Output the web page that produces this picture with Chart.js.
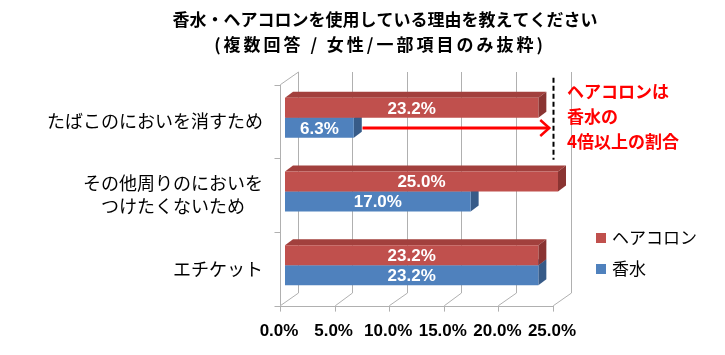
<!DOCTYPE html>
<html>
<head>
<meta charset="utf-8">
<script src="https://cdn.jsdelivr.net/npm/chart.js@4.4.1/dist/chart.umd.min.js"></script>
<style>
  html, body { margin: 0; padding: 0; background: #ffffff; }
  #wrap { width: 725px; height: 355px; }
</style>
</head>
<body>
<div id="wrap"><canvas id="c" width="725" height="355"></canvas></div>
<script>
// ---- data ----
const titleLines = ['香水・ヘアコロンを使用している理由を教えてください', '(複数回答 / 女性/一部項目のみ抜粋)'];
const categories = [['たばこのにおいを消すため'], ['その他周りのにおいを', 'つけたくないため'], ['エチケット']];
const seriesNames = ['ヘアコロン', '香水'];
const hairColognePct = [23.2, 25.0, 23.2];
const perfumePct = [6.3, 17.0, 23.2];
const xTickMin = 0;
const xTickMax = 25;
const xTickStep = 5;
const noteLines = ['ヘアコロンは', '香水の', '4倍以上の割合'];

// ---- styles ----
const RED = '#C0504D', RED_TOP = '#A2403D', RED_SIDE = '#8A3432';
const BLUE = '#4F81BD', BLUE_TOP = '#41699C', BLUE_SIDE = '#375B88';
const GRID = '#B0B0B0';
const JP = '"Noto Sans CJK JP", "Noto Sans", sans-serif';
const NUM = '"Liberation Sans", Arial, sans-serif';

// 3D geometry offsets relative to bar plane
const FRONT = { dx: -5, dy: 3.6 };
const BACK = { dx: 12.5, dy: -9 };
const BAR_DEPTH = { dx: 8, dy: -6 };

const frame3d = {
  id: 'frame3d',
  beforeDatasetsDraw(chart) {
    const ctx = chart.ctx, xs = chart.scales.x, ys = chart.scales.y, a = chart.chartArea;
    ctx.save();
    ctx.strokeStyle = GRID;
    ctx.lineWidth = 1;
    const fTop = a.top + FRONT.dy, fBot = a.bottom + FRONT.dy;
    const bTop = a.top + BACK.dy, bBot = a.bottom + BACK.dy;
    for (let v = xTickMin; v <= xTickMax; v += xTickStep) {
      const px = xs.getPixelForValue(v);
      const bx = Math.round(px + BACK.dx) + 0.5;
      const fx = Math.round(px + FRONT.dx) + 0.5;
      ctx.beginPath();
      ctx.moveTo(bx, bTop);
      ctx.lineTo(bx, bBot);
      ctx.lineTo(fx, fBot);
      ctx.lineTo(fx, fBot + 6);
      ctx.stroke();
    }
    // left wall
    const fx0 = Math.round(xs.getPixelForValue(xTickMin) + FRONT.dx) + 0.5;
    const bx0 = Math.round(xs.getPixelForValue(xTickMin) + BACK.dx) + 0.5;
    ctx.beginPath();
    ctx.moveTo(bx0, bTop);
    ctx.lineTo(fx0, fTop);
    ctx.lineTo(fx0, fBot);
    ctx.stroke();
    // floor front edge
    const fxN = Math.round(xs.getPixelForValue(xTickMax) + FRONT.dx) + 0.5;
    ctx.beginPath();
    ctx.moveTo(fx0 - 3, Math.round(fBot) + 0.5);
    ctx.lineTo(fxN, Math.round(fBot) + 0.5);
    ctx.stroke();
    // category boundary ticks on left wall
    const n = categories.length;
    for (let i = 0; i <= n; i++) {
      const yb = a.top + (a.bottom - a.top) * i / n + FRONT.dy;
      ctx.beginPath();
      ctx.moveTo(fx0 - 6, Math.round(yb) + 0.5);
      ctx.lineTo(fx0, Math.round(yb) + 0.5);
      ctx.stroke();
    }
    // bar depth faces (blue first, then red)
    const faces = [[1, BLUE_TOP, BLUE_SIDE], [0, RED_TOP, RED_SIDE]];
    faces.forEach(([di, topC, sideC]) => {
      const meta = chart.getDatasetMeta(di);
      meta.data.forEach(el => {
        const p = el.getProps(['x', 'y', 'base', 'height'], true);
        const top = p.y - p.height / 2, bot = p.y + p.height / 2;
        const l = p.base, r = p.x;
        ctx.fillStyle = topC;
        ctx.beginPath();
        ctx.moveTo(l, top);
        ctx.lineTo(l + BAR_DEPTH.dx, top + BAR_DEPTH.dy);
        ctx.lineTo(r + BAR_DEPTH.dx, top + BAR_DEPTH.dy);
        ctx.lineTo(r, top);
        ctx.closePath();
        ctx.fill();
        ctx.fillStyle = sideC;
        ctx.beginPath();
        ctx.moveTo(r, top);
        ctx.lineTo(r + BAR_DEPTH.dx, top + BAR_DEPTH.dy);
        ctx.lineTo(r + BAR_DEPTH.dx, bot + BAR_DEPTH.dy);
        ctx.lineTo(r, bot);
        ctx.closePath();
        ctx.fill();
      });
    });
    ctx.restore();
  },
  afterDatasetsDraw(chart) {
    const ctx = chart.ctx, xs = chart.scales.x, ys = chart.scales.y;
    ctx.save();
    // data labels
    ctx.font = 'bold 17px ' + NUM;
    ctx.fillStyle = '#FFFFFF';
    ctx.textAlign = 'center';
    ctx.textBaseline = 'middle';
    chart.data.datasets.forEach((ds, di) => {
      chart.getDatasetMeta(di).data.forEach((el, i) => {
        const p = el.getProps(['x', 'y', 'base'], true);
        ctx.fillText(ds.data[i].toFixed(1) + '%', (p.x + p.base) / 2, p.y + 1);
      });
    });
    // dashed marker line
    const dashX = Math.round(xs.getPixelForValue(24.5)) + 0.5;
    const c0 = ys.getPixelForValue(0);
    ctx.strokeStyle = '#000000';
    ctx.lineWidth = 2;
    ctx.setLineDash([5, 3]);
    ctx.beginPath();
    ctx.moveTo(dashX, c0 - 40);
    ctx.lineTo(dashX, c0 + 42);
    ctx.stroke();
    ctx.setLineDash([]);
    // arrow from the perfume bar to the marker
    const blueEl = chart.getDatasetMeta(1).data[0].getProps(['y'], true);
    const ay = Math.round(blueEl.y);
    const ax0 = xs.getPixelForValue(7.1), ax1 = xs.getPixelForValue(24.2);
    ctx.strokeStyle = '#FF0000';
    ctx.lineWidth = 3;
    ctx.beginPath();
    ctx.moveTo(ax0, ay);
    ctx.lineTo(ax1, ay);
    ctx.stroke();
    ctx.lineWidth = 2.5;
    ctx.beginPath();
    ctx.moveTo(ax1 - 9, ay - 8);
    ctx.lineTo(ax1, ay);
    ctx.lineTo(ax1 - 9, ay + 8);
    ctx.stroke();
    ctx.restore();
  },
  afterDraw(chart) {
    const ctx = chart.ctx, ys = chart.scales.y;
    ctx.save();
    // title
    ctx.fillStyle = '#000000';
    ctx.textAlign = 'center';
    ctx.textBaseline = 'middle';
    ctx.font = 'bold 17px ' + JP;
    ctx.fillText(titleLines[0], 385, 20);
    ctx.font = 'bold 17px ' + JP;
    ctx.letterSpacing = '3px';
    ctx.fillText(titleLines[1], 380, 45);
    ctx.letterSpacing = '0px';
    // category labels
    ctx.font = '18px ' + JP;
    const rightEdge = 263, lh = 23;
    categories.forEach((lines, i) => {
      const cy = ys.getPixelForValue(i) + FRONT.dy;
      const widths = lines.map(t => ctx.measureText(t).width);
      const maxW = Math.max(...widths);
      const blockCx = rightEdge - maxW / 2;
      lines.forEach((t, k) => {
        const y = cy + (k - (lines.length - 1) / 2) * lh;
        ctx.fillText(t, blockCx, y);
      });
    });
    // legend
    ctx.textAlign = 'left';
    ctx.font = '17px ' + JP;
    const legColors = [RED, BLUE];
    const legY = [238, 269];
    seriesNames.forEach((nm, i) => {
      ctx.fillStyle = legColors[i];
      ctx.fillRect(596, legY[i] - 5, 10, 10);
      ctx.fillStyle = '#000000';
      ctx.fillText(nm, 612, legY[i]);
    });
    // note
    ctx.fillStyle = '#FF0000';
    ctx.font = 'bold 17px ' + JP;
    const noteY = [92, 117, 142];
    noteLines.forEach((t, i) => ctx.fillText(t, 567, noteY[i]));
    ctx.restore();
  }
};

const bgPlugin = {
  id: 'bg',
  beforeDraw(chart) {
    const ctx = chart.ctx;
    ctx.save();
    ctx.fillStyle = '#FFFFFF';
    ctx.fillRect(0, 0, chart.width, chart.height);
    ctx.restore();
  }
};

new Chart(document.getElementById('c'), {
  type: 'bar',
  data: {
    labels: categories,
    datasets: [
      { label: seriesNames[0], data: hairColognePct, backgroundColor: RED, borderWidth: 0 },
      { label: seriesNames[1], data: perfumePct, backgroundColor: BLUE, borderWidth: 0 }
    ]
  },
  options: {
    indexAxis: 'y',
    responsive: false,
    animation: false,
    events: [],
    categoryPercentage: 0.543,
    barPercentage: 1.0,
    layout: { padding: { top: 81, right: 167, left: 0, bottom: 0 } },
    plugins: { legend: { display: false }, title: { display: false }, tooltip: { enabled: false } },
    scales: {
      y: {
        type: 'category',
        ticks: { display: false },
        grid: { display: false, drawTicks: false },
        border: { display: false },
        afterFit(s) { s.width = 285; }
      },
      x: {
        type: 'linear',
        min: xTickMin,
        max: xTickMax,
        ticks: {
          stepSize: xTickStep,
          callback: v => v.toFixed(1) + '%',
          font: { family: NUM, size: 17, weight: 'bold' },
          color: '#000000',
          padding: 19,
          labelOffset: -6,
          maxRotation: 0
        },
        grid: { display: false, drawTicks: false },
        border: { display: false },
        afterFit(s) { s.height = 53; }
      }
    }
  },
  plugins: [bgPlugin, frame3d]
});
</script>
</body>
</html>
